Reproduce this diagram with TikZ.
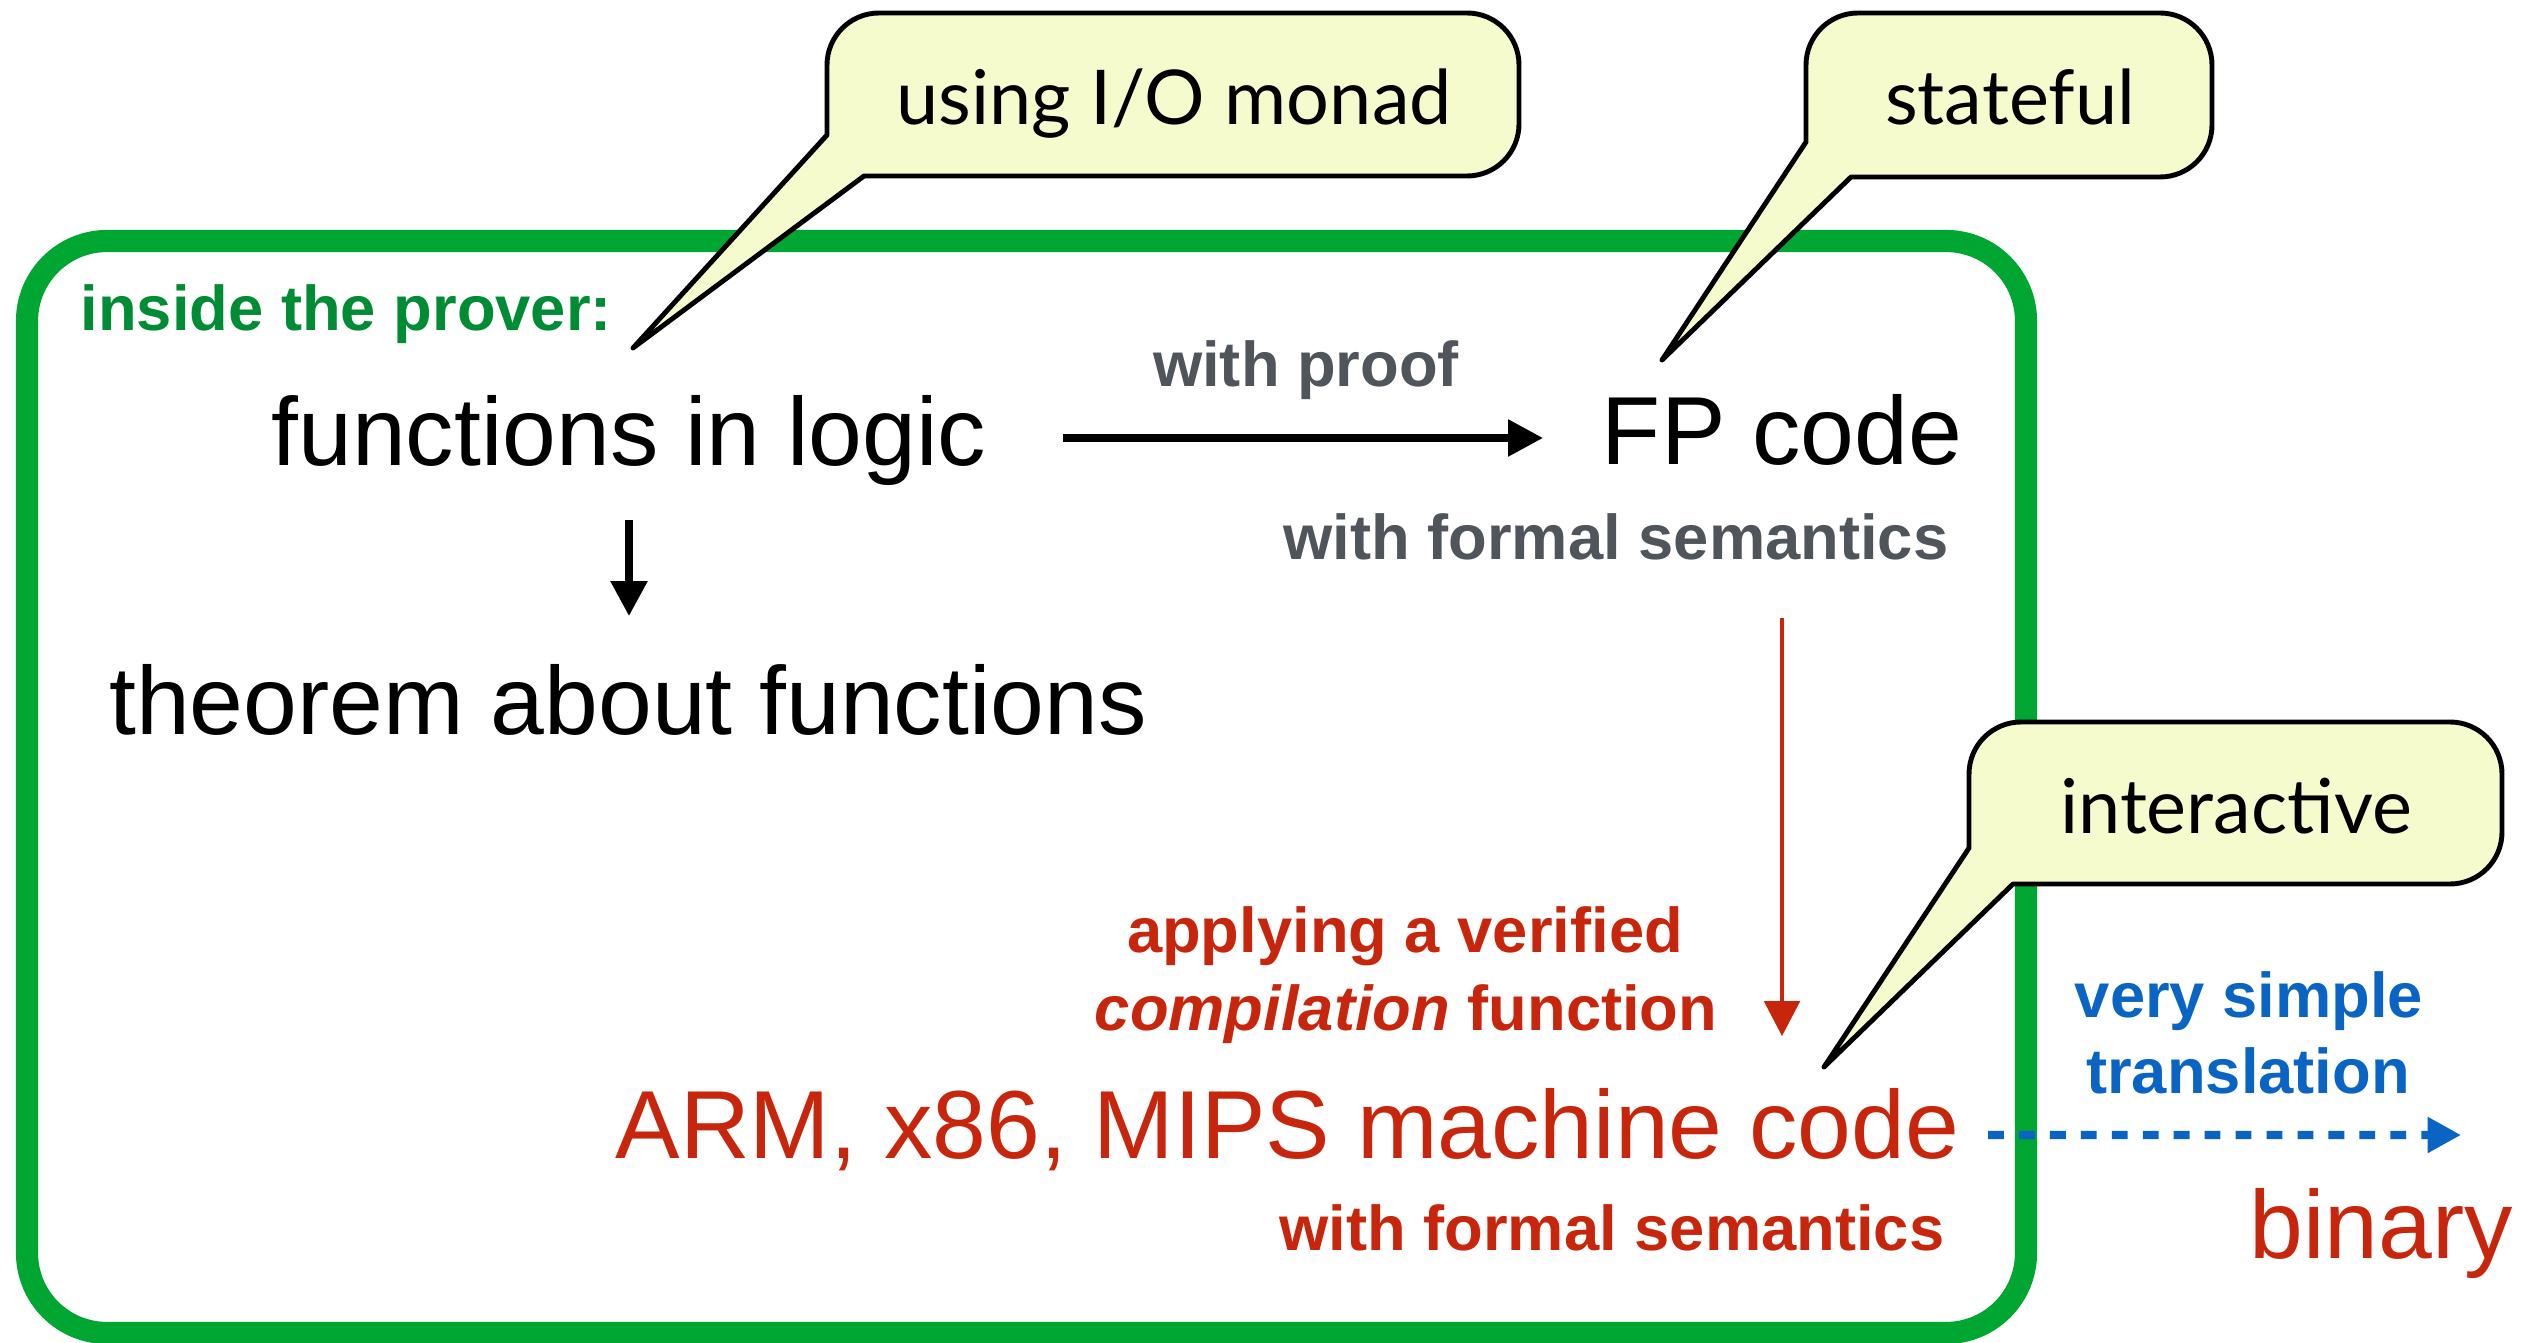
\documentclass[tikz,border=0pt]{standalone}
\usepackage{fontspec}
\setmainfont{Liberation Sans}
\newfontfamily\callfont{Lato}
\usetikzlibrary{arrows.meta,calc}
\definecolor{boxgreen}{RGB}{0,166,50}
\definecolor{txtgreen}{RGB}{0,140,52}
\definecolor{txtgray}{RGB}{80,85,92}
\definecolor{myred}{RGB}{200,38,12}
\definecolor{myblue}{RGB}{10,100,195}
\definecolor{callfill}{RGB}{245,251,205}
\newcommand\callbox[8]{%
  \pgfmathsetmacro\kk{0.4477*#8}%
  \filldraw[callshape] (#1,#5) -- (#7) -- (#6,#4) -- ({#3-#8},#4)
    .. controls ({#3-\kk},#4) and (#3,{#4-\kk}) .. (#3,{#4-#8})
    -- (#3,{#2+#8})
    .. controls (#3,{#2+\kk}) and ({#3-\kk},#2) .. ({#3-#8},#2)
    -- ({#1+#8},#2)
    .. controls ({#1+\kk},#2) and (#1,{#2+\kk}) .. (#1,{#2+#8}) -- cycle;}
\begin{document}
\begin{tikzpicture}[x=0.01cm,y=-0.01cm,
  maintxt/.style={font=\fontsize{27.5}{30}\selectfont, inner sep=0pt, anchor=base},
  lbl/.style={font=\bfseries\fontsize{18}{20}\selectfont, inner sep=0pt, anchor=base},
  calltxt/.style={font=\callfont\fontsize{21.5}{24}\selectfont, inner sep=0pt, anchor=base},
  callshape/.style={fill=callfill, draw=black, line width=1.4pt, line join=round},
  blackarr/.style={draw=black, line width=2.3pt, -{Triangle[length=10pt,width=10pt]}},
  redarr/.style={draw=myred, line width=1.4pt, -{Triangle[length=10pt,width=10pt]}},
  bluearr/.style={draw=myblue, line width=2.3pt, dash pattern=on 4.5pt off 4.3pt, -{Triangle[length=9.5pt,width=9.7pt]}}]
\useasboundingbox (0,0) rectangle (2545,1343);
\fill[white] (0,0) rectangle (2545,1343);
% green prover box
\draw[boxgreen, line width=6.3pt, rounded corners=0.8cm] (27,241) rectangle (2026,1333);
% texts
\node[lbl, text=txtgreen, anchor=base west] (prover) at (80,331) {inside the prover:};
\node[maintxt] (fil) at (629,466) {functions in logic};
\node[maintxt] (thm) at (628,734) {theorem about functions};
\node[lbl, text=txtgray] (proof) at (1306,387) {with proof};
\node[maintxt] (fp) at (1782,465) {FP code};
\node[lbl, text=txtgray, anchor=base east] (fps) at (1949,560) {with formal semantics};
\node[lbl, text=myred] (apply) at (1405,952) {applying a verified};
\node[lbl, text=myred] (comp) at (1406,1030) {\textit{compilation} function};
\node[maintxt, text=myred, anchor=base east] (arm) at (1960,1158) {ARM, x86, MIPS machine code};
\node[lbl, text=myred, anchor=base east] (arms) at (1945,1250) {with formal semantics};
\node[lbl, text=myblue] (very) at (2249,1017) {very simple};
\node[lbl, text=myblue] (transl) at (2248,1093) {translation};
\node[maintxt, text=myred] (bin) at (2381,1258) {binary};
% connectors
\draw[blackarr, shorten <=0.33cm, shorten >=0.47cm] (fil.south) -- (fil.south |- thm.north);
\draw[blackarr, shorten <=0.76cm, shorten >=0.58cm] ([yshift=0.28cm]fil.base east) -- ([yshift=0.28cm]fil.base east -| fp.west);
\draw[redarr, shorten <=0.57cm, shorten >=0.51cm] (fp.south |- fps.south) -- (fp.south |- arm.north);
\coordinate (binend) at (2461,1135);
\draw[bluearr, shorten <=0.28cm] ([yshift=0.23cm]arm.base east) -- (binend);
% callouts
\coordinate (tipA) at (633,348);
\coordinate (tipB) at (1662,360);
\coordinate (tipC) at (1824,1067);
\callbox{827}{13}{1519}{176}{135}{864}{tipA}{52}
\callbox{1806}{13}{2212}{177}{142}{1851}{tipB}{52}
\callbox{1969}{722}{2502}{884}{848}{2013}{tipC}{52}
\node[calltxt] (io) at (1174,125) {using I/O monad};
\node[calltxt] (state) at (2010,125) {stateful};
\node[calltxt] (inter) at (2236,833) {interactive};
\end{tikzpicture}
\end{document}
